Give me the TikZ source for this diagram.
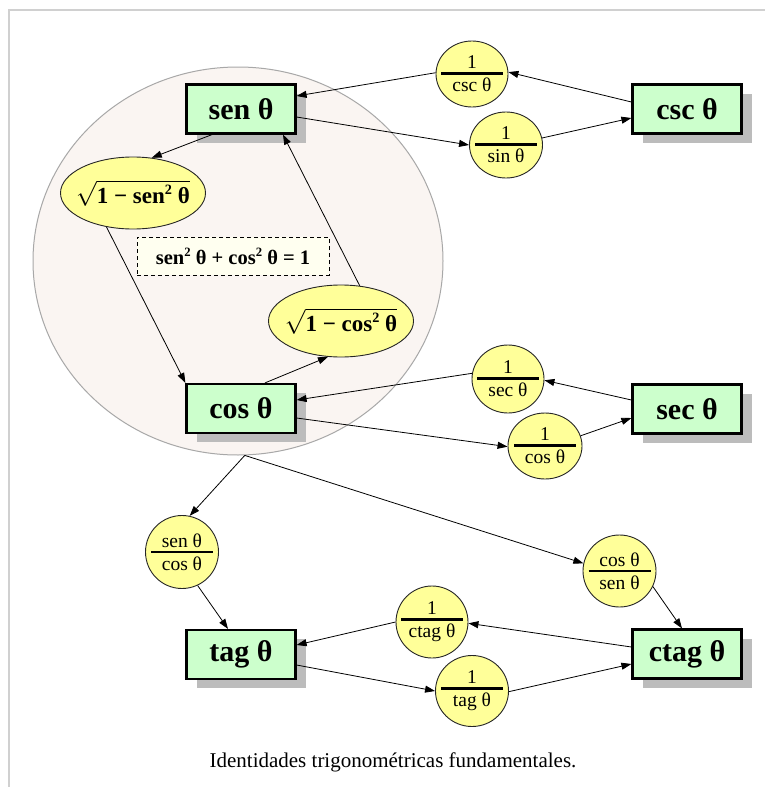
\documentclass[tikz,border=0pt]{standalone}
\usepackage{fontspec}
\setmainfont{Liberation Serif}
\usetikzlibrary{arrows.meta,shapes.geometric,shadows}

\definecolor{boxgreen}{HTML}{CCFFCC}
\definecolor{fracyellow}{HTML}{FFFF99}
\definecolor{shadowgray}{HTML}{BCBCBC}
\definecolor{zonefill}{HTML}{FAF5F2}
\definecolor{zoneedge}{HTML}{A8A8A8}
\definecolor{framegray}{HTML}{D0D0D0}
\definecolor{notefill}{HTML}{FFFFF0}

% stacked fraction with a heavy bar, 62pt wide
\newcommand{\frc}[2]{\vbox{\hbox to 62pt{\hss#1\hss}\kern3.5pt\hrule height 2.2pt\kern3.5pt\hbox to 62pt{\hss#2\hss}}}
% raised square
\newcommand{\sqd}{\raisebox{0.38em}{\scalebox{0.62}{2}}}

\tikzset{
  fn/.style={rectangle, draw=black, line width=2.2pt, fill=boxgreen,
    minimum width=109pt, minimum height=49pt, inner sep=0pt,
    font=\fontsize{30}{32}\selectfont\bfseries,
    general shadow={fill=shadowgray, shadow xshift=10pt, shadow yshift=-9pt}},
  fr/.style 2 args={ellipse, draw=black!85, line width=0.9pt, fill=fracyellow,
    minimum width=#1pt, minimum height=#2pt, inner sep=0pt},
  fraclabel/.style={font=\fontsize{19.5}{21}\selectfont, inner sep=0pt},
  rootlabel/.style={font=\fontsize{23}{25}\selectfont\bfseries, inner sep=0pt},
  rt/.style={ellipse, draw=black!85, line width=0.9pt, fill=fracyellow,
    minimum width=145pt, minimum height=72pt, inner sep=0pt},
  note/.style={rectangle, draw=black, dash pattern=on 4pt off 3pt, line width=0.9pt,
    fill=notefill, minimum width=192pt, minimum height=38pt, inner sep=0pt,
    font=\fontsize{20.5}{22}\selectfont\bfseries},
  link/.style={draw=black, line width=0.8pt, -{Triangle[length=10pt,width=7pt]}}
}

\begin{document}
\begin{tikzpicture}[x=1pt, y=-1pt]
  \useasboundingbox (0,0) rectangle (765,787);
  \fill[white] (0,0) rectangle (765,787);

  % page frame
  \draw[framegray, line width=1.2pt] (9,787) -- (9,10) -- (765,10);

  % shaded zone round the sine/cosine pair
  \node[ellipse, draw=zoneedge, fill=zonefill, line width=1pt,
        minimum width=410pt, minimum height=388pt] (zone) at (238,261) {};

  % functions
  \node[fn] (sen)  at (241,109)   {sen θ};
  \node[fn] (csc)  at (687,109)   {csc θ};
  \node[fn] (cos)  at (241,408.5) {cos θ};
  \node[fn] (sec)  at (687,409)   {sec θ};
  \node[fn] (tag)  at (241,654.5) {tag θ};
  \node[fn] (ctag) at (687,654)   {ctag θ};

  % transformations
  \node[fr={72}{66}, label={[fraclabel]center:{\frc{1}{csc θ}}}]   (icsc)  at (472,74)  {};
  \node[fr={73}{66}, label={[fraclabel]center:{\frc{1}{sin θ}}}]   (isin)  at (506,145) {};
  \node[fr={72}{68}, label={[fraclabel]center:{\frc{1}{sec θ}}}]   (isec)  at (508,379) {};
  \node[fr={74}{66}, label={[fraclabel]center:{\frc{1}{cos θ}}}]   (icos)  at (545,446) {};
  \node[fr={73}{73}, label={[fraclabel]center:{\frc{sen θ}{cos θ}}}] (sc)  at (182,552) {};
  \node[fr={73}{72}, label={[fraclabel]center:{\frc{cos θ}{sen θ}}}] (cs)  at (619.5,571) {};
  \node[fr={72}{72}, label={[fraclabel]center:{\frc{1}{ctag θ}}}]  (ictag) at (432,622) {};
  \node[fr={73}{71}, label={[fraclabel]center:{\frc{1}{tag θ}}}]   (itag)  at (472,691) {};

  \node[rt, label={[rootlabel]center:{$\sqrt{\mbox{1 − sen\sqd\ θ}}$}}] (rsen) at (133,193) {};
  \node[rt, label={[rootlabel]center:{$\sqrt{\mbox{1 − cos\sqd\ θ}}$}}] (rcos) at (341,321) {};

  \node[note] (pyth) at (233,256) {sen\sqd\ θ + cos\sqd\ θ = 1};

  % sine / cosecant
  \draw[link] ([yshift=7pt]csc.west) -- (icsc.3);
  \draw[link] (icsc.178) -- ([yshift=13pt]sen.east);
  \draw[link] ([yshift=-8pt]sen.east) -- (isin.180);
  \draw[link] (isin.11) -- ([yshift=-9pt]csc.west);

  % sine <-> cosine
  \draw[link] ([xshift=-29pt]sen.south) -- (rsen.62);
  \draw[link] (rsen.232) -- (cos.north west);
  \draw[link] ([xshift=24pt]cos.north) -- (rcos.250);
  \draw[link] (rcos.62) -- ([xshift=42pt]sen.south);

  % cosine / secant
  \draw[link] ([yshift=9pt]sec.west) -- (isec.358);
  \draw[link] (isec.171) -- ([yshift=8.5pt]cos.east);
  \draw[link] ([yshift=-9.5pt]cos.east) -- (icos.181);
  \draw[link] (icos.16) -- ([yshift=-9pt]sec.west);

  % quotients
  \draw[link] (zone.-88) -- (sc.78);
  \draw[link] (zone.-88) -- (cs.168);
  \draw[link] (sc.295) -- ([xshift=-13pt]tag.north);
  \draw[link] (cs.335) -- ([xshift=-5pt]ctag.north);

  % tangent / cotangent
  \draw[link] ([yshift=7pt]ctag.west) -- (ictag.358);
  \draw[link] (ictag.180) -- ([yshift=9.5pt]tag.east);
  \draw[link] ([yshift=-10.5pt]tag.east) -- (itag.180);
  \draw[link] (itag.359) -- ([yshift=-10pt]ctag.west);

  \node[font=\fontsize{21}{24}\selectfont] (caption) at (393,762)
    {Identidades trigonométricas fundamentales.};
\end{tikzpicture}
\end{document}
